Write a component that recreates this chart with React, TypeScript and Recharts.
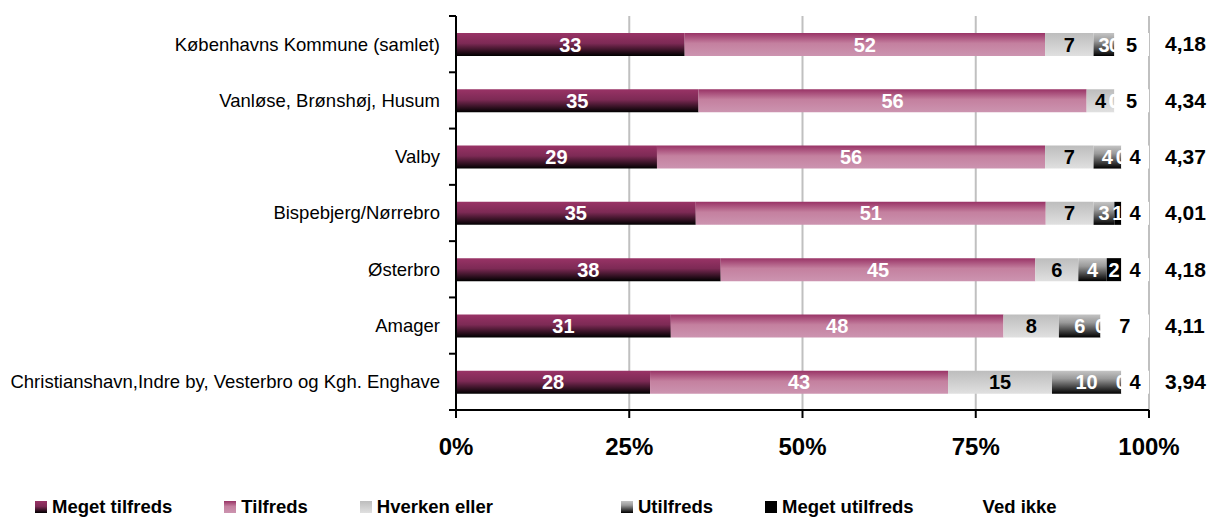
import { BarChart, Bar, XAxis, YAxis, CartesianGrid, LabelList } from "recharts";

const districts = [
  "Københavns Kommune (samlet)",
  "Vanløse, Brønshøj, Husum",
  "Valby",
  "Bispebjerg/Nørrebro",
  "Østerbro",
  "Amager",
  "Christianshavn,Indre by, Vesterbro og Kgh. Enghave",
];
const megetTilfreds = [33, 35, 29, 34.6, 38.2, 31, 28];
const tilfreds = [52, 56, 56, 50.5, 45.4, 48, 43];
const hverken = [7, 4, 7, 6.9, 6.2, 8, 15];
const utilfreds = [3, 0, 4, 3, 4.1, 6, 10];
const megetUtilfreds = [0, 0, 0, 1, 2.1, 0, 0];
const vedIkke = [5, 5, 4, 4, 4, 7, 4];
const averages = ["4,18", "4,34", "4,37", "4,01", "4,18", "4,11", "3,94"];
const xTicks = [0, 25, 50, 75, 100];

const rows = districts.map((name, i) => ({
  name,
  mt: megetTilfreds[i],
  t: tilfreds[i],
  h: hverken[i],
  u: utilfreds[i],
  mu: megetUtilfreds[i],
  vi: vedIkke[i],
}));

const SERIES = [
  { key: "mt", name: "Meget tilfreds", label: "#fff", stops: [["0%", "#993366"], ["45%", "#7d2a55"], ["100%", "#000000"]] },
  { key: "t", name: "Tilfreds", label: "#fff", stops: [["0%", "#993366"], ["45%", "#c4809f"], ["100%", "#cc94b0"]] },
  { key: "h", name: "Hverken eller", label: "#000", stops: [["0%", "#bdbdbd"], ["100%", "#e0e0e0"]] },
  { key: "u", name: "Utilfreds", label: "#fff", stops: [["0%", "#c4c4c4"], ["35%", "#9a9a9a"], ["100%", "#000000"]] },
  { key: "mu", name: "Meget utilfreds", label: "#fff", stops: [["0%", "#000000"], ["100%", "#000000"]] },
  { key: "vi", name: "Ved ikke", label: "#000", stops: [["0%", "#ffffff"], ["100%", "#ffffff"]] },
];

const W = 1207;
const CHART_H = 487;
const PLOT_TOP = 8;
const X_AXIS_H = 85;
const PLOT_BOTTOM = CHART_H - X_AXIS_H;
const BAND = (PLOT_BOTTOM - PLOT_TOP) / districts.length;
const AVG_X = 1157;

function CategoryTick(props: any) {
  const { x, y, payload, index } = props;
  const top = y - BAND / 2;
  return (
    <g>
      <line x1={x - 7} x2={x} y1={top} y2={top} stroke="#000" strokeWidth={2} />
      {index === districts.length - 1 && (
        <line x1={x - 7} x2={x} y1={y + BAND / 2} y2={y + BAND / 2} stroke="#000" strokeWidth={2} />
      )}
      <text x={x - 16} y={y} dy="0.35em" textAnchor="end" fontSize={18.5} fill="#000">
        {payload.value}
      </text>
      <text x={AVG_X} y={y} dy="0.35em" textAnchor="start" fontSize={21} fontWeight="bold" fill="#000">
        {averages[index]}
      </text>
    </g>
  );
}

// Recharts skips labels of zero-width segments; Excel still prints them at the
// segment edge, so the preceding segment draws any "0" that follows it.
function makeLabel(seriesIdx: number) {
  const color = SERIES[seriesIdx].label;
  return (p: any) => {
    const { x, y, width, height, value } = p;
    if (value == null) return null;
    const cy = Number(y) + Number(height) / 2;
    const rowIdx = Math.floor((cy - PLOT_TOP) / BAND);
    const row = rows[rowIdx];
    const zeros: string[] = [];
    if (row) {
      for (let k = seriesIdx + 1; k < SERIES.length; k++) {
        if ((row as any)[SERIES[k].key] !== 0) break;
        zeros.push(SERIES[k].label);
      }
    }
    const edge = Number(x) + Number(width);
    return (
      <g>
        {zeros.map((c, j) => (
          <text key={j} x={edge} y={cy} dy="0.35em" textAnchor="middle" fontSize={20} fontWeight="bold" fill={c}>
            0
          </text>
        ))}
        <text
          x={Number(x) + Number(width) / 2}
          y={cy}
          dy="0.35em"
          textAnchor="middle"
          fontSize={20}
          fontWeight="bold"
          fill={color}
        >
          {String(Math.round(Number(value)))}
        </text>
      </g>
    );
  };
}

export default function App() {
  return (
    <div style={{ position: "relative", width: W, height: 511, fontFamily: "Arial, 'Liberation Sans', sans-serif" }}>
      <BarChart
        width={W}
        height={CHART_H}
        data={rows}
        layout="vertical"
        margin={{ top: PLOT_TOP, right: 66, left: 0, bottom: 0 }}
      >
        <defs>
          {SERIES.map((s) => (
            <linearGradient key={s.key} id={`g-${s.key}`} x1="0" y1="0" x2="0" y2="1">
              {s.stops.map(([o, c]) => (
                <stop key={o} offset={o} stopColor={c} />
              ))}
            </linearGradient>
          ))}
        </defs>
        <CartesianGrid horizontal={false} stroke="#c0c0c0" strokeWidth={2} />
        <XAxis
          type="number"
          domain={[0, 100]}
          ticks={xTicks}
          allowDataOverflow
          tickFormatter={(v) => `${v}%`}
          height={X_AXIS_H}
          axisLine={{ stroke: "#000", strokeWidth: 2 }}
          tickLine={{ stroke: "#000", strokeWidth: 2 }}
          tickSize={8}
          tickMargin={20}
          tick={{ fontSize: 24, fontWeight: "bold", fill: "#000" }}
        />
        <YAxis
          type="category"
          dataKey="name"
          width={448}
          axisLine={{ stroke: "#000", strokeWidth: 2 }}
          tickLine={false}
          tickSize={0}
          tickMargin={0}
          interval={0}
          tick={<CategoryTick />}
        />
        {SERIES.map((s, si) => (
          <Bar
            key={s.key}
            dataKey={s.key}
            name={s.name}
            stackId="a"
            barSize={23}
            fill={`url(#g-${s.key})`}
            isAnimationActive={false}
          >
            <LabelList dataKey={s.key} position="center" content={makeLabel(si)} />
          </Bar>
        ))}
      </BarChart>
      <div
        style={{
          position: "absolute",
          top: CHART_H,
          left: 0,
          height: 24,
          display: "flex",
          alignItems: "center",
          paddingLeft: 27,
          fontSize: 18.5,
          fontWeight: "bold",
          whiteSpace: "nowrap",
        }}
      >
        {SERIES.map((s, i) => (
          <div
            key={s.key}
            style={{ display: "flex", alignItems: "center", marginLeft: i === 0 ? 0 : i === 3 ? 128 : 52 }}
          >
            <span
              style={{
                width: 12,
                height: 12,
                marginRight: 5,
                display: "inline-block",
                background: `linear-gradient(to bottom, ${s.stops.map(([o, c]) => `${c} ${o}`).join(", ")})`,
              }}
            />
            <span>{s.name}</span>
          </div>
        ))}
      </div>
    </div>
  );
}
